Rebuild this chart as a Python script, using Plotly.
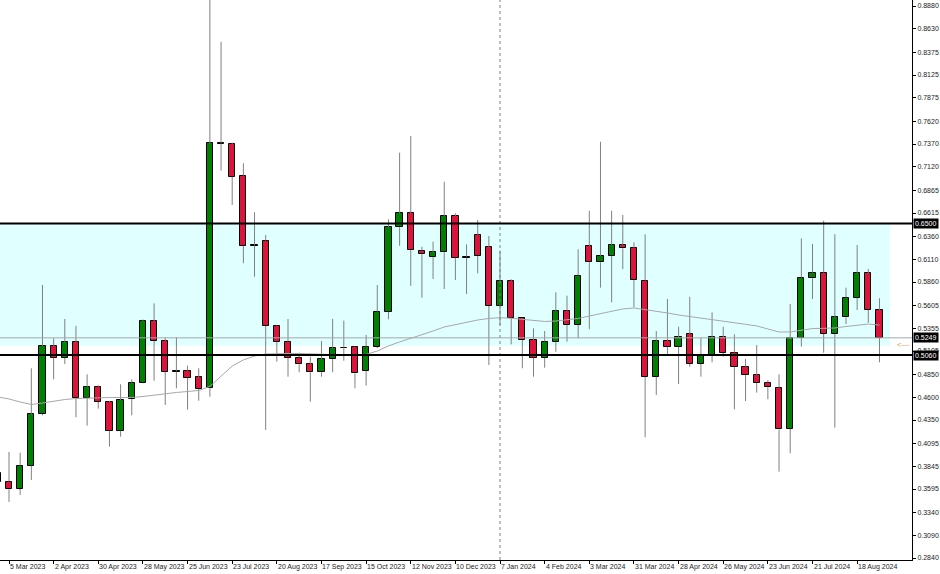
import plotly.graph_objects as go

# ---------------- data (weekly candles, 26 Feb 2023 .. 1 Sep 2024) ----------------
week_index = list(range(80))

opens = [0.3770, 0.3675, 0.3595, 0.3850, 0.4416, 0.5160, 0.5032, 0.5200, 0.4594, 0.4711,
         0.4547, 0.4233, 0.4580, 0.4758, 0.5433, 0.5214, 0.4879, 0.4889, 0.4817, 0.4697,
         0.7380, 0.7367, 0.7023, 0.6257, 0.6312, 0.5379, 0.5207, 0.5032, 0.4959, 0.4872,
         0.5017, 0.5135, 0.5149, 0.4889, 0.5149, 0.5535, 0.6459, 0.6612, 0.6203, 0.6137,
         0.6185, 0.6582, 0.6126, 0.6374, 0.6240, 0.5597, 0.5871, 0.5462, 0.5225, 0.5032,
         0.5207, 0.5543, 0.5389, 0.6254, 0.6076, 0.6145, 0.6265, 0.6229, 0.5874, 0.4824,
         0.5214, 0.5152, 0.5288, 0.4963, 0.5061, 0.5255, 0.5086, 0.4933, 0.4842, 0.4758,
         0.4704, 0.4255, 0.5251, 0.5900, 0.5962, 0.5291, 0.5474, 0.5688, 0.5955, 0.5554]
highs = [0.3800, 0.4000, 0.3992, 0.4916, 0.5827, 0.5244, 0.5455, 0.5379, 0.4850, 0.4730,
         0.4560, 0.4741, 0.4795, 0.5450, 0.5627, 0.5255, 0.5255, 0.4944, 0.4916, 0.9000,
         0.8489, 0.7385, 0.7159, 0.6623, 0.6374, 0.5385, 0.5455, 0.5086, 0.5043, 0.5215,
         0.5455, 0.5437, 0.5155, 0.5280, 0.5827, 0.6546, 0.7275, 0.7458, 0.6246, 0.6301,
         0.6957, 0.6612, 0.6272, 0.6538, 0.6363, 0.6203, 0.5890, 0.5465, 0.5353, 0.5324,
         0.5747, 0.5710, 0.6218, 0.6640, 0.7395, 0.6640, 0.6593, 0.6295, 0.6382, 0.5324,
         0.5674, 0.5371, 0.5699, 0.5251, 0.5528, 0.5371, 0.5288, 0.5017, 0.5171, 0.4788,
         0.4850, 0.5619, 0.6338, 0.6276, 0.6531, 0.6382, 0.5798, 0.6265, 0.6002, 0.5682]
lows = [0.3620, 0.3453, 0.3529, 0.3693, 0.4400, 0.4795, 0.4963, 0.4380, 0.4288, 0.4474,
        0.4058, 0.4167, 0.4401, 0.4752, 0.4780, 0.4514, 0.4697, 0.4463, 0.4561, 0.4605,
        0.7078, 0.6703, 0.6065, 0.5918, 0.4241, 0.4988, 0.4824, 0.4872, 0.4550, 0.4824,
        0.4872, 0.4999, 0.4697, 0.4726, 0.5135, 0.5452, 0.6257, 0.5819, 0.5688, 0.5893,
        0.5783, 0.5882, 0.5728, 0.5955, 0.4952, 0.5389, 0.5178, 0.4916, 0.4824, 0.4922,
        0.5097, 0.5207, 0.5244, 0.5343, 0.5798, 0.5638, 0.6001, 0.5583, 0.4161, 0.4624,
        0.5065, 0.4744, 0.4933, 0.4824, 0.4981, 0.5043, 0.4467, 0.4558, 0.4649, 0.4577,
        0.3784, 0.3986, 0.5152, 0.5674, 0.5086, 0.4266, 0.5400, 0.5554, 0.5414, 0.4981]
closes = [0.3672, 0.3592, 0.3850, 0.4412, 0.5160, 0.5032, 0.5200, 0.4587, 0.4711, 0.4547,
          0.4233, 0.4569, 0.4758, 0.5433, 0.5214, 0.4879, 0.4886, 0.4813, 0.4689, 0.7378,
          0.7375, 0.7012, 0.6257, 0.6262, 0.5379, 0.5207, 0.5032, 0.4959, 0.4872, 0.5017,
          0.5135, 0.5142, 0.4861, 0.5152, 0.5535, 0.6459, 0.6612, 0.6210, 0.6163, 0.6185,
          0.6582, 0.6126, 0.6137, 0.6145, 0.5597, 0.5871, 0.5469, 0.5225, 0.5032, 0.5207,
          0.5543, 0.5389, 0.5929, 0.6076, 0.6145, 0.6265, 0.6229, 0.5882, 0.4824, 0.5214,
          0.5152, 0.5255, 0.4963, 0.5061, 0.5255, 0.5086, 0.4933, 0.4842, 0.4758, 0.4708,
          0.4248, 0.5244, 0.5907, 0.5962, 0.5291, 0.5474, 0.5688, 0.5955, 0.5554, 0.5249]

moving_average = [0.4602, 0.4580, 0.4547, 0.4520, 0.4536, 0.4558, 0.4574, 0.4585, 0.4591, 0.4596,
                  0.4596, 0.4596, 0.4596, 0.4607, 0.4624, 0.4640, 0.4651, 0.4662, 0.4673, 0.4717,
                  0.4831, 0.4941, 0.5007, 0.5050, 0.5072, 0.5078, 0.5078, 0.5078, 0.5072, 0.5072,
                  0.5067, 0.5061, 0.5061, 0.5067, 0.5105, 0.5160, 0.5204, 0.5242, 0.5286, 0.5324,
                  0.5368, 0.5395, 0.5422, 0.5444, 0.5461, 0.5469, 0.5463, 0.5450, 0.5439, 0.5428,
                  0.5433, 0.5450, 0.5461, 0.5488, 0.5515, 0.5543, 0.5565, 0.5576, 0.5559, 0.5543,
                  0.5521, 0.5499, 0.5483, 0.5466, 0.5452, 0.5433, 0.5417, 0.5397, 0.5379, 0.5346,
                  0.5313, 0.5313, 0.5335, 0.5351, 0.5353, 0.5357, 0.5373, 0.5389, 0.5400, 0.5389]

date_tick_index = [1, 5, 9, 13, 17, 21, 25, 29, 33, 37, 41, 45, 49, 53, 57, 61, 65, 69, 73, 77]
date_tick_labels = ["5 Mar 2023", "2 Apr 2023", "30 Apr 2023", "28 May 2023", "25 Jun 2023",
                    "23 Jul 2023", "20 Aug 2023", "17 Sep 2023", "15 Oct 2023", "12 Nov 2023",
                    "10 Dec 2023", "7 Jan 2024", "4 Feb 2024", "3 Mar 2024", "31 Mar 2024",
                    "28 Apr 2024", "26 May 2024", "23 Jun 2024", "21 Jul 2024", "18 Aug 2024"]

price_ticks = [0.8880, 0.8630, 0.8375, 0.8125, 0.7875, 0.7620, 0.7370, 0.7120, 0.6865, 0.6615,
               0.6360, 0.6110, 0.5860, 0.5605, 0.5355, 0.5105, 0.4850, 0.4600, 0.4350, 0.4095,
               0.3845, 0.3595, 0.3340, 0.3090, 0.2840]

level_lines = [0.6500, 0.5060]
bid_price = 0.5249
zone_low, zone_high = 0.5163, 0.6500
zone_end_index = 79.95
separator_index = 45
arrow_price = 0.5171

# ---------------- styling ----------------
UP = "#008000"
DOWN = "#DC143C"
WICK = "#808080"
FONT = "Liberation Sans, Arial, sans-serif"
TXT = "#222222"

body_base, body_height, body_color = [], [], []
wx, wy = [], []
for i, o, h, l, c in zip(week_index, opens, highs, lows, closes):
    top, bot = max(o, c), min(o, c)
    body_base.append(bot)
    body_height.append(max(top - bot, 0.0004))
    body_color.append(UP if c >= o else DOWN)
    wx += [i, i, None, i, i, None]
    wy += [h, top, None, bot, l, None]

fig = go.Figure()
fig.add_trace(go.Scatter(x=wx, y=wy, mode="lines", line=dict(color=WICK, width=1),
                         hoverinfo="skip", showlegend=False))
fig.add_trace(go.Bar(x=week_index, y=body_height, base=body_base, width=0.56,
                     marker=dict(color=body_color, line=dict(color="black", width=1)),
                     showlegend=False))
fig.add_trace(go.Scatter(x=week_index, y=moving_average, mode="lines",
                         line=dict(color="#A8A8A8", width=1), showlegend=False))

shapes = [
    dict(type="rect", xref="x", yref="y", x0=-2, x1=zone_end_index, y0=zone_low, y1=zone_high,
         fillcolor="#E0FFFF", line=dict(width=0), layer="below"),
    dict(type="line", xref="x", yref="paper", x0=separator_index, x1=separator_index, y0=0, y1=1,
         line=dict(color="#808080", width=1, dash="dot"), layer="above"),
    dict(type="line", xref="paper", yref="y", x0=0, x1=1, y0=bid_price, y1=bid_price,
         line=dict(color="#A8A8A8", width=1), layer="above"),
]
for lv in level_lines:
    shapes.append(dict(type="line", xref="paper", yref="y", x0=0, x1=1, y0=lv, y1=lv,
                       line=dict(color="black", width=2), layer="above"))

annotations = []
for idx, lab in zip(date_tick_index, date_tick_labels):
    annotations.append(dict(x=idx, xref="x", y=0, yref="paper", yanchor="top", xanchor="left",
                            xshift=-1, yshift=-1, text=lab, showarrow=False,
                            font=dict(family=FONT, size=7, color=TXT)))
for val in [level_lines[0], bid_price, level_lines[1]]:
    annotations.append(dict(x=1, xref="paper", y=val, yref="y", xanchor="left", yanchor="middle",
                            xshift=1, text=f"{val:.4f}", showarrow=False, bgcolor="black",
                            borderpad=1, font=dict(family=FONT, size=7, color="white")))
annotations.append(dict(x=1, xref="paper", y=arrow_price, yref="y", xanchor="right",
                        yanchor="middle", xshift=0, text="<---", showarrow=False,
                        font=dict(family=FONT, size=8, color="#E8955A")))

fig.update_layout(
    width=940, height=574,
    margin=dict(l=0, r=28, t=0, b=14, pad=0),
    paper_bgcolor="white", plot_bgcolor="white",
    barmode="overlay", bargap=0, showlegend=False,
    shapes=shapes, annotations=annotations,
    xaxis=dict(range=[0.1935, 81.915], showgrid=False, zeroline=False,
               showline=True, linecolor="black", linewidth=1,
               tickvals=date_tick_index, ticks="outside", ticklen=3, tickcolor="black",
               showticklabels=False, automargin=False),
    yaxis=dict(side="right", range=[0.28181, 0.89457], showgrid=False, zeroline=False,
               showline=True, linecolor="black", linewidth=1,
               tickvals=price_ticks, ticktext=[f"{v:.4f}" for v in price_ticks],
               ticks="outside", ticklen=3, tickcolor="black",
               tickfont=dict(family=FONT, size=7, color=TXT), automargin=False),
)

fig.write_html("out.html", config={"displayModeBar": False},
               post_script="document.body.style.margin='0';")
